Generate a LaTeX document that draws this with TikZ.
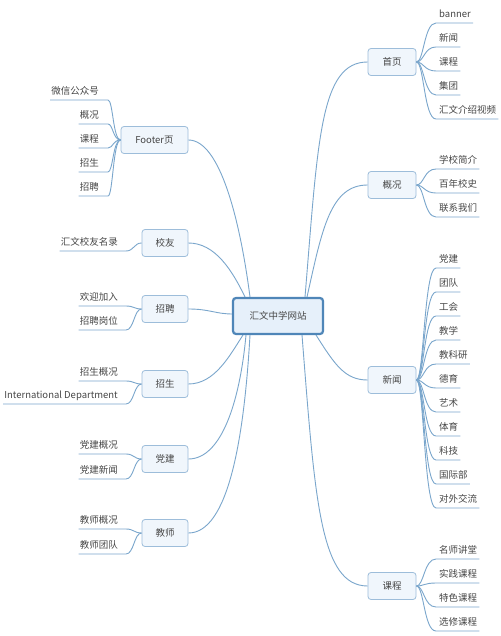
\documentclass[tikz,border=0pt]{standalone}
\usepackage{fontspec}
\setmainfont{Noto Sans CJK SC}
\definecolor{conncol}{HTML}{7AA6CC}
\definecolor{rootdraw}{HTML}{4F86B8}
\definecolor{rootfill}{HTML}{E6F0FA}
\definecolor{boxdraw}{HTML}{9DBDDA}
\definecolor{boxfill}{HTML}{F0F6FC}
\definecolor{txtcol}{HTML}{474747}
\tikzset{
  every node/.style={font=\fontsize{9.5}{11}\selectfont, text=txtcol},
  conn/.style={draw=conncol, line width=0.9pt},
  rootbox/.style={draw=rootdraw, fill=rootfill, line width=2.2pt, rounded corners=3pt, minimum width=90pt, minimum height=36pt},
  branchbox/.style={draw=boxdraw, fill=boxfill, line width=0.8pt, rounded corners=3pt, minimum width=46pt, minimum height=27pt},
  leafr/.style={anchor=south west, inner xsep=2pt, inner ysep=3pt, text height=7.5pt, text depth=2.5pt},
  leafl/.style={anchor=south east, inner xsep=1pt, inner ysep=3pt, text height=7.5pt, text depth=2.5pt},
}
\newcommand\myrleaves[3]{%
  \foreach \t/\ly [count=\i] in {#3} {%
    \node[leafr] (#1-\i) at (437,\ly) {\t};
    \draw[conn] (#1.east) .. controls (424,#2) and (424,\ly) .. (436,\ly) -- (#1-\i.south east);
  }}
\newcommand\mylleaves[6]{%
  \foreach \t/\ly [count=\i] in {#6} {%
    \node[leafl] (#1-\i) at (#5,\ly) {\t};
    \draw[conn] (#1.west) .. controls (#3,#2) and (#3,\ly) .. (#4,\ly) -- (#1-\i.south west);
  }}
\begin{document}
\begin{tikzpicture}[x=1pt,y=-1pt]
\useasboundingbox (0,0) rectangle (500,636);
\fill[white] (0,0) rectangle (500,636);

% branch nodes
\node[branchbox, minimum width=48pt] (home) at (392,62) {首页};
\node[branchbox, minimum width=48pt] (gaik) at (392,185) {概况};
\node[branchbox, minimum width=48pt] (news) at (392,380) {新闻};
\node[branchbox, minimum width=48pt] (kech) at (392,586) {课程};
\node[branchbox, minimum width=67pt] (foot) at (154.5,140) {Footer页};
\node[branchbox] (xiaoy) at (165,243) {校友};
\node[branchbox] (zhaop) at (165,309) {招聘};
\node[branchbox] (zhaos) at (165,384) {招生};
\node[branchbox] (dangj) at (165,459) {党建};
\node[branchbox] (jiaos) at (165,533) {教师};

% main connectors
\draw[conn] (305,297) .. controls (318,140) and (320,62) .. (home.west);
\draw[conn] (307,297) .. controls (322,230) and (330,185) .. (gaik.west);
\draw[conn] (316,335) .. controls (335,365) and (345,380) .. (news.west);
\draw[conn] (302,335) .. controls (315,500) and (320,586) .. (kech.west);
\draw[conn] (foot.east) .. controls (220,140) and (240,220) .. (250,297);
\draw[conn] (xiaoy.east) .. controls (215,243) and (232,270) .. (245,297);
\draw[conn] (zhaop.east) .. controls (210,309) and (215,314) .. (233,314);
\draw[conn] (zhaos.east) .. controls (215,384) and (230,355) .. (243,335);
\draw[conn] (dangj.east) .. controls (222,459) and (240,400) .. (246,335);
\draw[conn] (jiaos.east) .. controls (228,533) and (244,440) .. (250,335);

% root
\node[rootbox] (root) at (278,316) {汇文中学网站};

% right leaves
\myrleaves{home}{62}{banner/23, 新闻/47, 课程/71, 集团/95, 汇文介绍视频/119}
\myrleaves{gaik}{185}{学校简介/169, 百年校史/193, 联系我们/217}
\myrleaves{news}{380}{党建/268, 团队/292, 工会/316, 教学/340, 教科研/364, 德育/388, 艺术/412, 体育/436, 科技/460, 国际部/484, 对外交流/508}
\myrleaves{kech}{586}{名师讲堂/559, 实践课程/583, 特色课程/607, 选修课程/631}

% left leaves
\mylleaves{foot}{140}{113}{108}{100}{微信公众号/100, 概况/124, 课程/148, 招生/172, 招聘/196}
\mylleaves{xiaoy}{243}{134}{126}{119}{汇文校友名录/251}
\mylleaves{zhaop}{309}{134}{126}{119}{欢迎加入/306, 招聘岗位/330}
\mylleaves{zhaos}{384}{134}{126}{119}{招生概况/381, International Department/404}
\mylleaves{dangj}{459}{134}{126}{119}{党建概况/454, 党建新闻/479}
\mylleaves{jiaos}{533}{134}{126}{119}{教师概况/529, 教师团队/554}
\end{tikzpicture}
\end{document}
